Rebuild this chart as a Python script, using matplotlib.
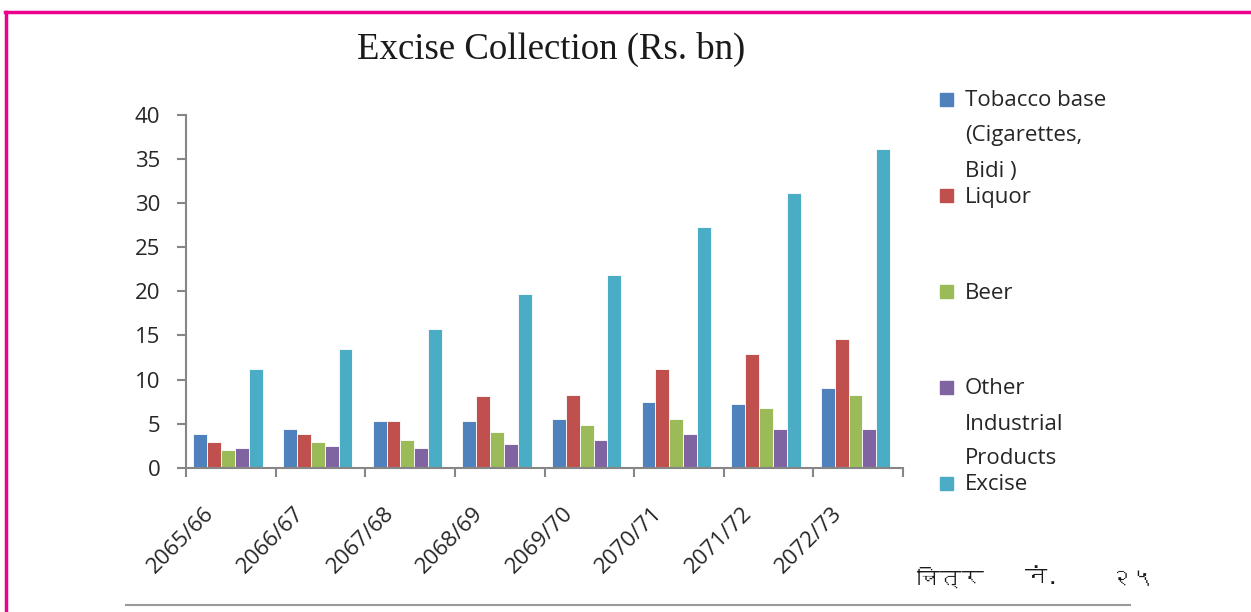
import matplotlib
matplotlib.use("Agg")
import matplotlib.pyplot as plt
import numpy as np
from matplotlib import font_manager
from matplotlib.lines import Line2D
from matplotlib.patches import Rectangle

years = ["2065/66", "2066/67", "2067/68", "2068/69", "2069/70", "2070/71", "2071/72", "2072/73"]
tobacco = [3.8, 4.4, 5.3, 5.3, 5.5, 7.4, 7.2, 9.0]
liquor = [2.9, 3.8, 5.3, 8.1, 8.3, 11.2, 12.9, 14.6]
beer = [2.0, 2.9, 3.1, 4.0, 4.8, 5.5, 6.8, 8.3]
other = [2.2, 2.5, 2.2, 2.7, 3.1, 3.8, 4.4, 4.4]
excise = [11.2, 13.5, 15.7, 19.7, 21.8, 27.3, 31.2, 36.2]

series_names = ["Tobacco base\n(Cigarettes,\nBidi )", "Liquor", "Beer",
                "Other\nIndustrial\nProducts", "Excise"]
colors = ["#4F81BD", "#C0504D", "#9BBB59", "#8064A2", "#4BACC6"]
title = "Excise Collection (Rs. bn)"
caption = ["चित्र", "नं.", "२५"]

W, H = 1251, 612


def find_devanagari_font():
    from matplotlib.ft2font import FT2Font
    for f in font_manager.fontManager.ttflist:
        try:
            cmap = FT2Font(f.fname).get_charmap()
        except Exception:
            continue
        if 0x091A in cmap and 0x0928 in cmap:
            return f.name
    return "DejaVu Sans"


label_font = "Open Sans"
fs = 16
deva_font = find_devanagari_font()

fig = plt.figure(figsize=(W / 100, H / 100), dpi=100)
ax = fig.add_axes([186 / W, 1 - 467.7 / H, (903 - 186) / W, (467.7 - 115) / H])

x = np.arange(len(years))
bar_w = 0.155
shift = -0.03
for i, (vals, name, c) in enumerate(zip([tobacco, liquor, beer, other, excise], series_names, colors)):
    ax.bar(x + shift + (i - 2) * bar_w, vals, width=bar_w, color=c, edgecolor="white",
           linewidth=0.6, label=name)

ax.set_xlim(-0.5, len(years) - 0.5)
ax.set_ylim(0, 40)
ax.set_yticks(np.arange(0, 41, 5))
# labels sit a little left of the category centre, as in the original
ax.set_xticks(x - 0.22)
ax.set_xticklabels(years, rotation=45, ha="right", va="center", rotation_mode="anchor",
                   fontfamily=label_font, fontsize=fs, color="#262626")
ax.set_xticks(np.arange(-0.5, len(years)), minor=True)
ax.tick_params(axis="x", which="major", length=0, pad=31)
ax.tick_params(axis="x", which="minor", length=6.5, width=1.5, color="#868686", direction="out")
ax.tick_params(axis="y", length=6.5, width=1.5, color="#868686", pad=12, labelsize=fs,
               labelcolor="#262626")
for lab in ax.get_yticklabels():
    lab.set_fontfamily(label_font)

for side in ["top", "right"]:
    ax.spines[side].set_visible(False)
for side in ["left", "bottom"]:
    ax.spines[side].set_color("#868686")
    ax.spines[side].set_linewidth(1.5)

fig.text(551 / W, 1 - 49 / H, title, fontfamily="Liberation Serif", fontsize=26.5,
         ha="center", va="center", color="#1a1a1a")

# legend, drawn by hand to follow the tall slots of the original
for i, (name, c) in enumerate(zip(series_names, colors)):
    y0 = 101 + 96 * i
    fig.patches.append(Rectangle((940 / W, 1 - (y0 + 5) / H), 13 / W, 13 / H,
                                 transform=fig.transFigure, color=c))
    for j, line in enumerate(name.split("\n")):
        fig.text(965 / W, 1 - (y0 + 35 * j) / H, line, fontfamily=label_font,
                 fontsize=fs, va="center", ha="left", color="#262626")

# page decorations: magenta frame, bottom rule, figure caption
frame = "#EC008C"
fig.add_artist(Line2D([5 / W, 1], [1 - 12 / H, 1 - 12 / H], transform=fig.transFigure,
                      color=frame, linewidth=2.5))
fig.add_artist(Line2D([6 / W, 6 / W], [0, 1 - 12 / H], transform=fig.transFigure,
                      color=frame, linewidth=2.5))
fig.add_artist(Line2D([126 / W, 1130 / W], [1 - 605 / H, 1 - 605 / H], transform=fig.transFigure,
                      color="#999999", linewidth=1.5))
for txt, px in zip(caption, [950, 1042, 1132]):
    fig.text(px / W, 1 - 578 / H, txt, fontfamily=[deva_font, "DejaVu Sans"], fontsize=16,
             fontweight="bold", ha="center", va="center", color="#1a1a1a")

fig.savefig("out.png", dpi=100)
